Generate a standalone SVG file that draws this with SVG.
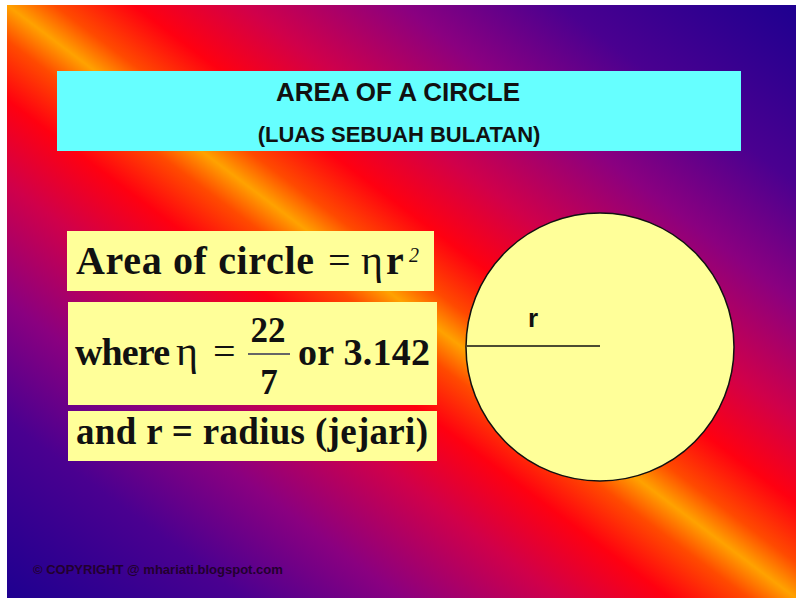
<svg xmlns="http://www.w3.org/2000/svg" width="796" height="600" viewBox="0 0 796 600">
<style>
.sans{font-family:"Liberation Sans",Arial,sans-serif;fill:#111}
.serif{font-family:"Liberation Serif","Times New Roman",serif;fill:#111;font-weight:bold}
.sym{font-family:"Liberation Serif","Times New Roman",serif;fill:#111;font-weight:normal}
.ybox{fill:#ffff99}
</style>
<defs>
<linearGradient id="bg" x1="0" y1="1" x2="1" y2="0">
<stop offset="0" stop-color="#1e0090"/>
<stop offset="0.15" stop-color="#4a0090"/>
<stop offset="0.25" stop-color="#8a0080"/>
<stop offset="0.35" stop-color="#d0004a"/>
<stop offset="0.42" stop-color="#ff0010"/>
<stop offset="0.47" stop-color="#ff4a00"/>
<stop offset="0.5" stop-color="#ffa200"/>
<stop offset="0.53" stop-color="#ff4a00"/>
<stop offset="0.58" stop-color="#ff0010"/>
<stop offset="0.65" stop-color="#d0004a"/>
<stop offset="0.75" stop-color="#8a0080"/>
<stop offset="0.85" stop-color="#4a0090"/>
<stop offset="1" stop-color="#1e0090"/>
</linearGradient>
</defs>
<rect x="0" y="0" width="796" height="600" fill="#ffffff"/>
<rect x="7" y="5" width="789" height="593" fill="url(#bg)"/>

<g id="title">
<rect x="57" y="71" width="684" height="80" fill="#66ffff"/>
<text class="sans" x="398" y="101" font-size="26" font-weight="bold" text-anchor="middle">AREA OF A CIRCLE</text>
<text class="sans" x="399" y="142" font-size="22" font-weight="bold" text-anchor="middle">(LUAS SEBUAH BULATAN)</text>
</g>

<g id="area-formula">
<rect class="ybox" x="67" y="231" width="367" height="60"/>
<text class="serif" x="76" y="274" font-size="40" textLength="238" lengthAdjust="spacing">Area of circle</text>
<text class="sym" x="328" y="274" font-size="40">=</text>
<text class="sym" x="361" y="274" font-size="42">η</text>
<text class="serif" x="386" y="274" font-size="40">r</text>
<text class="sym" x="409" y="262" font-size="20" font-style="italic">2</text>
</g>

<g id="pi-value">
<rect class="ybox" x="68" y="302" width="369" height="103"/>
<text class="serif" x="75" y="365" font-size="38" textLength="95" lengthAdjust="spacing">where</text>
<text class="sym" x="176" y="365" font-size="42">η</text>
<text class="sym" x="213" y="365" font-size="40">=</text>
<text class="serif" x="268" y="342" font-size="35" text-anchor="middle">22</text>
<line x1="248" y1="354" x2="290" y2="354" stroke="#666" stroke-width="2"/>
<text class="serif" x="269" y="394" font-size="35" text-anchor="middle">7</text>
<text class="serif" x="298" y="365" font-size="38" textLength="132" lengthAdjust="spacing">or 3.142</text>
</g>

<g id="radius-def">
<rect class="ybox" x="68" y="411" width="369" height="50"/>
<text class="serif" x="76" y="444" font-size="37" textLength="352" lengthAdjust="spacing">and r = radius (jejari)</text>
</g>

<g id="circle">
<circle cx="600" cy="347" r="134" fill="#ffff99" stroke="#111" stroke-width="1.5"/>
<line x1="467" y1="346" x2="600" y2="346" stroke="#111" stroke-width="1.5"/>
<text class="sans" x="533" y="327" font-size="26" font-weight="bold" text-anchor="middle">r</text>
</g>

<g id="copyright">
<text class="sans" x="33" y="574" font-size="13" font-weight="bold" style="fill:#22002e">© COPYRIGHT @ mhariati.blogspot.com</text>
</g>
</svg>
